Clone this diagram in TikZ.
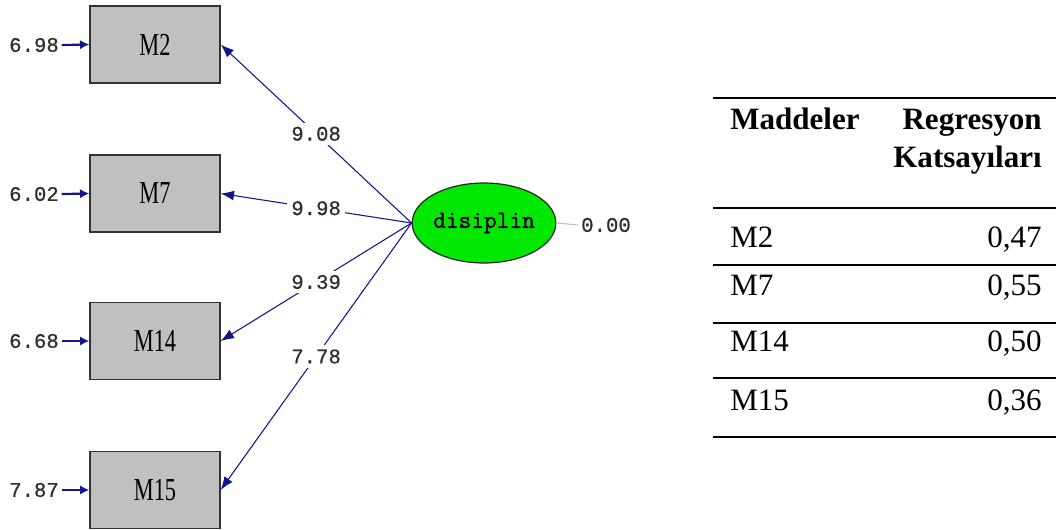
\documentclass[tikz,border=0pt]{standalone}
\usepackage{fontspec}
\setmainfont{Liberation Serif}
\newfontfamily\monof[FakeBold=0.6]{Liberation Mono}
\newfontfamily\latf[FakeBold=1.6]{Latin Modern Mono}
\newfontfamily\boxf[FakeStretch=0.7]{Liberation Serif}
\usetikzlibrary{arrows.meta,shapes.geometric}
\definecolor{navy}{RGB}{20,20,140}
\definecolor{boxgray}{RGB}{192,192,192}
\definecolor{latgreen}{RGB}{0,232,0}
\definecolor{labcol}{RGB}{50,45,45}
\begin{document}
\begin{tikzpicture}[x=0.75pt,y=-0.75pt,
  obs/.style={rectangle,draw=black!80,line width=1pt,fill=boxgray,minimum width=97.5pt,minimum height=57.75pt,font=\boxf\fontsize{24}{26}\selectfont},
  lat/.style={ellipse,draw=black!85,line width=0.9pt,fill=latgreen,minimum width=96pt,minimum height=60pt,inner sep=0pt,font=\latf\fontsize{18.5}{20}\selectfont},
  numlab/.style={font=\monof\fontsize{15.5}{17}\selectfont,text=labcol,inner sep=2pt},
  pathlab/.style={numlab,fill=white,inner sep=3pt},
  loadarrow/.style={draw=navy,line width=0.8pt,-{Latex[length=10pt,width=7.5pt]}},
  errarrow/.style={draw=navy,line width=1.6pt,-{Latex[length=7pt,width=7pt]}},
  zline/.style={draw=black!25,line width=0.8pt},
  rule/.style={line width=1.4pt},
  tab/.style={font=\fontsize{23.3}{28}\selectfont,inner sep=0pt},
  tabh/.style={tab,font=\bfseries\fontsize{23.3}{28}\selectfont}
]
\useasboundingbox (0,0) rectangle (1056,529);
% observed variables
\node[obs] (m2) at (155,44.5) {M2};
\node[obs] (m7) at (155,193.5) {M7};
\node[obs] (m14) at (155,341) {M14};
\node[obs] (m15) at (155,490) {M15};
% latent
\node[lat] (d) at (484,223) {disiplin};
% error labels
\node[numlab] (e2) at (34,45) {6.98};
\node[numlab] (e7) at (34,194) {6.02};
\node[numlab] (e14) at (34,341) {6.68};
\node[numlab] (e15) at (34,490) {7.87};
\draw[errarrow] (e2.east) -- (m2.west);
\draw[errarrow] (e7.east) -- (m7.west);
\draw[errarrow] (e14.east) -- (m14.west);
\draw[errarrow] (e15.east) -- (m15.west);
% loadings
\draw[loadarrow] (d.west) -- node[pathlab,pos=0.5] {9.08} (m2.east);
\draw[loadarrow] (d.west) -- node[pathlab,pos=0.5] {9.98} (m7.east);
\draw[loadarrow] (d.west) -- node[pathlab,pos=0.5] {9.39} (m14.east);
\draw[loadarrow] (d.west) -- node[pathlab,pos=0.5] {7.78} (m15.east);
% latent variance
\node[numlab] (z) at (606,225) {0.00};
\draw[zline] (d.east) -- (z.west);
% table
\draw[rule] (713,98) -- (1056,98);
\draw[rule] (713,208) -- (1056,208);
\draw[rule] (713,265) -- (1056,265);
\draw[rule] (713,323) -- (1056,323);
\draw[rule] (713,378) -- (1056,378);
\draw[rule] (713,437) -- (1056,437);
\node[tabh,anchor=base west] (h1) at (730,129) {Maddeler};
\node[tabh,anchor=base east] (h2) at (1042,129) {Regresyon};
\node[tabh,anchor=base east] (h3) at (1042,167) {Katsayıları};
\node[tab,anchor=base west] (r1) at (730,247) {M2};
\node[tab,anchor=base east] (v1) at (1042,247) {0,47};
\node[tab,anchor=base west] (r2) at (730,295) {M7};
\node[tab,anchor=base east] (v2) at (1042,295) {0,55};
\node[tab,anchor=base west] (r3) at (730,351) {M14};
\node[tab,anchor=base east] (v3) at (1042,351) {0,50};
\node[tab,anchor=base west] (r4) at (730,410) {M15};
\node[tab,anchor=base east] (v4) at (1042,410) {0,36};
\end{tikzpicture}
\end{document}
